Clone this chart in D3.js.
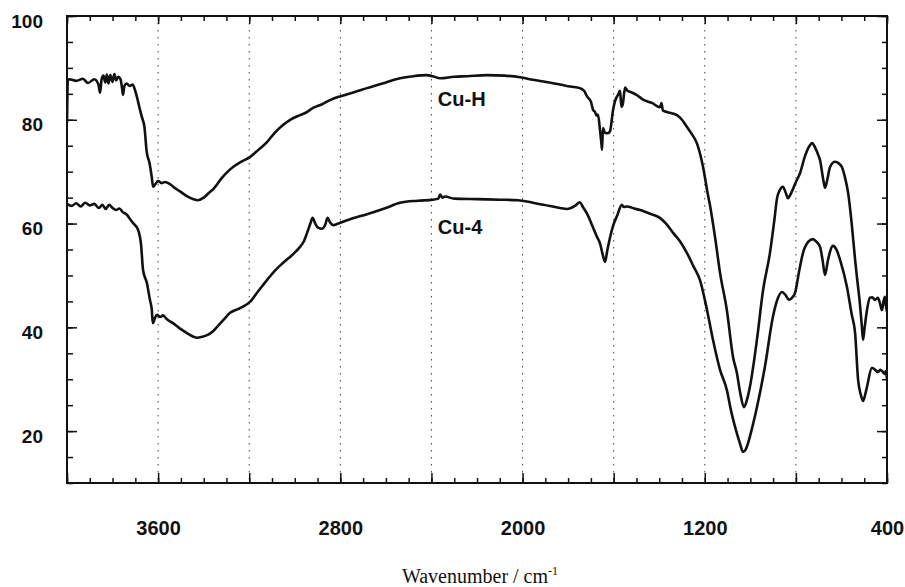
<!DOCTYPE html>
<html>
<head>
<meta charset="utf-8">
<title>IR spectra Cu-H / Cu-4</title>
<script src="https://cdn.jsdelivr.net/npm/d3@7"></script>
<style>
    body { margin: 0; background: #fff; }
    #spectrum { width: 905px; height: 587px; }
    .grid-line { stroke: #444; stroke-width: 1; stroke-dasharray: 1.5,5.5; }
    .frame { fill: none; stroke: #111; stroke-width: 2; }
    .spectrum-line { fill: none; stroke: #111; stroke-width: 2.6; stroke-linejoin: round; }
    .series-label { font-family: 'Liberation Sans', Arial, sans-serif; font-size: 20px; font-weight: bold; fill: #111; }
    .x-title { font-family: 'Liberation Serif', 'Times New Roman', serif; font-size: 20px; fill: #111; }
</style>
</head>
<body>
<div id="spectrum"></div>
<script>

// [wavenumber cm-1, transmittance %]
const cuH = [
    [4000, 79.4], [3996, 87.6], [3990, 87.8], [3960, 87.5], [3930, 87.9], [3908, 87.1],
    [3880, 87.8], [3862, 86.8], [3855, 85.2], [3848, 87.8], [3840, 88.5], [3832, 87.2],
    [3825, 88.7], [3818, 87.0], [3810, 88.6], [3800, 87.3], [3792, 88.8], [3784, 87.6],
    [3775, 88.3], [3765, 87.8], [3758, 86.0], [3754, 84.8], [3748, 86.5], [3738, 87.0],
    [3725, 86.5], [3712, 86.8], [3700, 85.5], [3693, 84.4], [3680, 82.0], [3671, 80.5],
    [3660, 78.6], [3650, 73.8], [3638, 71.7], [3628, 69.0], [3622, 67.1], [3612, 67.6],
    [3600, 68.2], [3585, 67.8], [3570, 68.0], [3548, 67.6], [3525, 66.8], [3504, 66.2],
    [3470, 65.2], [3445, 64.7], [3425, 64.5], [3400, 65.0], [3375, 66.0], [3359, 66.6],
    [3320, 68.8], [3290, 70.2], [3271, 70.9], [3240, 71.8], [3197, 72.8], [3160, 74.2],
    [3122, 75.7], [3090, 77.4], [3052, 79.0], [3020, 80.0], [2977, 80.9], [2950, 81.4],
    [2920, 82.3], [2880, 83.0], [2845, 83.8], [2802, 84.5], [2740, 85.3], [2683, 86.1],
    [2600, 87.2], [2538, 88.0], [2480, 88.4], [2420, 88.6], [2395, 88.4], [2362, 88.0],
    [2300, 88.3], [2244, 88.4], [2156, 88.6], [2080, 88.5], [2011, 88.2], [1954, 87.7],
    [1900, 87.3], [1836, 86.8], [1790, 86.4], [1748, 86.1], [1730, 85.6], [1717, 84.5],
    [1700, 83.5], [1691, 82.0], [1682, 81.5], [1675, 80.8], [1669, 81.0], [1660, 78.0],
    [1655, 76.0], [1651, 74.2], [1647, 78.4], [1638, 77.5], [1625, 77.4], [1616, 77.8],
    [1603, 81.8], [1594, 83.6], [1581, 84.8], [1572, 85.6], [1566, 82.5], [1560, 83.0],
    [1550, 86.2], [1540, 85.6], [1528, 85.4], [1500, 84.8], [1471, 83.9], [1430, 83.2],
    [1397, 82.4], [1390, 83.2], [1384, 81.8], [1366, 81.5], [1322, 80.9], [1300, 80.0],
    [1278, 78.6], [1256, 77.2], [1234, 75.4], [1208, 71.0], [1186, 65.5], [1177, 63.5],
    [1155, 57.4], [1133, 50.5], [1103, 43.3], [1076, 34.3], [1059, 31.2], [1045, 27.5],
    [1028, 24.6], [1015, 26.0], [1002, 28.5], [971, 37.6], [944, 47.2], [914, 54.3],
    [895, 60.5], [883, 64.8], [870, 66.5], [857, 67.1], [845, 66.0], [835, 64.9],
    [825, 65.5], [800, 68.0], [782, 69.7], [760, 73.0], [740, 75.0], [729, 75.5],
    [715, 74.6], [700, 73.0], [694, 72.2], [680, 68.5], [672, 66.9], [662, 68.5],
    [650, 70.9], [628, 71.9], [612, 71.6], [598, 70.9], [585, 69.0], [571, 66.0],
    [555, 60.0], [540, 53.0], [532, 49.7], [520, 45.0], [510, 40.0], [505, 37.6],
    [498, 40.0], [488, 43.3], [475, 45.7], [465, 45.8], [453, 45.3], [440, 45.7],
    [430, 44.5], [422, 43.3], [415, 45.0], [409, 45.9], [404, 44.0], [400, 43.0]
];

const cu4 = [
    [4000, 63.8], [3980, 63.4], [3960, 63.9], [3940, 63.3], [3920, 64.0], [3900, 63.5],
    [3880, 63.8], [3860, 63.0], [3845, 63.6], [3830, 62.8], [3815, 63.6], [3800, 63.0],
    [3785, 62.6], [3770, 62.9], [3755, 62.2], [3737, 61.7], [3722, 60.8], [3710, 60.1],
    [3688, 58.8], [3675, 56.0], [3666, 51.0], [3649, 48.5], [3636, 45.3], [3628, 43.5],
    [3623, 40.8], [3614, 41.8], [3605, 42.4], [3590, 42.0], [3579, 42.3], [3560, 41.5],
    [3535, 40.8], [3505, 39.8], [3473, 38.9], [3445, 38.2], [3429, 38.0], [3405, 38.2],
    [3385, 38.5], [3360, 39.2], [3341, 40.1], [3310, 41.6], [3284, 42.8], [3250, 43.5],
    [3227, 44.0], [3197, 44.9], [3160, 47.0], [3122, 49.1], [3090, 50.8], [3052, 52.4],
    [3010, 54.0], [2977, 55.5], [2960, 56.6], [2946, 58.2], [2930, 60.2], [2922, 61.1],
    [2910, 60.0], [2898, 59.2], [2880, 59.0], [2866, 59.8], [2856, 61.1], [2845, 60.2],
    [2830, 59.7], [2815, 59.9], [2760, 60.8], [2683, 61.8], [2600, 63.0], [2538, 64.0],
    [2460, 64.4], [2393, 64.6], [2370, 64.8], [2362, 65.6], [2352, 65.0], [2340, 65.2],
    [2300, 64.8], [2200, 64.7], [2099, 64.6], [2020, 64.5], [1954, 64.0], [1880, 63.4],
    [1836, 63.0], [1805, 62.8], [1770, 63.4], [1748, 64.1], [1735, 63.2], [1717, 61.9],
    [1691, 59.3], [1673, 57.4], [1660, 56.2], [1648, 54.0], [1638, 52.6], [1628, 54.8],
    [1616, 57.3], [1603, 59.5], [1585, 61.5], [1564, 63.6], [1555, 63.2], [1542, 63.3],
    [1510, 62.9], [1484, 62.6], [1440, 61.9], [1397, 61.1], [1370, 60.0], [1339, 58.2],
    [1309, 56.6], [1278, 54.3], [1250, 51.8], [1221, 49.1], [1190, 43.3], [1164, 37.6],
    [1133, 31.8], [1103, 27.9], [1085, 24.0], [1067, 20.8], [1046, 17.7], [1032, 16.0],
    [1020, 16.5], [1010, 17.7], [990, 21.0], [971, 24.6], [936, 32.4], [901, 42.0],
    [880, 45.5], [861, 46.8], [845, 46.2], [830, 45.3], [815, 45.8], [804, 46.6],
    [785, 51.0], [769, 54.3], [745, 56.5], [725, 57.0], [710, 56.5], [694, 55.5],
    [683, 53.0], [672, 50.1], [660, 52.8], [637, 55.7], [620, 54.8], [606, 53.0],
    [576, 47.8], [555, 42.5], [540, 38.9], [527, 29.9], [515, 27.0], [505, 25.8],
    [496, 27.0], [488, 28.5], [466, 32.2], [452, 31.8], [440, 31.4], [430, 31.8],
    [418, 31.4], [410, 31.0], [405, 31.6], [400, 30.0]
];

const seriesNames = ['Cu-H', 'Cu-4'];

// axis ticks
const xMajorTicks = [4000, 3600, 3200, 2800, 2400, 2000, 1600, 1200, 800, 400];
const xTickLabels = [3600, 2800, 2000, 1200, 400];
const gridWavenumbers = [3600, 3200, 2800, 2400, 2000, 1600, 1200, 800];
const yTickLabels = [20, 40, 60, 80, 100];

const irChart = (function () {

    let svg = null,
        width = null,
        height = null,
        margin = null,
        xScale = null,
        yScale = null
    ;

    return {
        init
    };

    function init() {

        var container = document.getElementById('spectrum');
        margin = {top: 16, right: 18, bottom: 104, left: 67};

        width = 905 - margin.left - margin.right;
        height = 587 - margin.top - margin.bottom;

        //x runs backwards, as usual for IR
        xScale = d3.scaleLinear()
            .domain([4000, 400])
            .range([0, width]);

        yScale = d3.scaleLinear()
            .domain([10, 100])
            .range([height, 0]);

        svg = d3.select(container).append('svg')
            .attr('width', width + margin.left + margin.right)
            .attr('height', height + margin.top + margin.bottom)
            .append('g')
            .attr('transform', 'translate(' + margin.left + ',' + margin.top + ')')
            ;

        drawGrid();
        drawAxes();
        drawSpectra();
    }

    function drawGrid() {

        svg.selectAll('.grid-line')
            .data(gridWavenumbers)
            .enter().append('line')
            .attr('class', 'grid-line')
            .attr('x1', d => xScale(d))
            .attr('x2', d => xScale(d))
            .attr('y1', 0)
            .attr('y2', height)
            ;
    }

    function drawAxes() {

        var xMinor = d3.range(400, 4001, 100);
        var yMinor = d3.range(10, 101, 5);
        var sans = "'Liberation Sans', Arial, sans-serif";

        //all ticks point into the plot
        var axes = [
            {gen: d3.axisBottom, scale: xScale, at: 'translate(0,' + height + ')', minor: xMinor, major: xMajorTicks, big: 10, small: 5},
            {gen: d3.axisTop, scale: xScale, at: 'translate(0,0)', minor: xMinor, major: xMajorTicks, big: 8, small: 5},
            {gen: d3.axisLeft, scale: yScale, at: 'translate(0,0)', minor: yMinor, major: yTickLabels, big: 10, small: 6},
            {gen: d3.axisRight, scale: yScale, at: 'translate(' + width + ',0)', minor: yMinor, major: yTickLabels, big: 10, small: 5}
        ];

        axes.forEach(function (a) {
            [[a.minor, a.small], [a.major, a.big]].forEach(function (set) {
                var g = svg.append('g')
                    .attr('class', 'ticks')
                    .attr('transform', a.at)
                    .call(a.gen(a.scale).tickValues(set[0]).tickSize(-set[1]).tickFormat(() => ''))
                    ;
                g.select('.domain').remove();
                g.selectAll('line')
                    .attr('stroke', '#111')
                    .attr('stroke-width', 1.5)
                    ;
            });
        });

        //tick labels
        svg.append('g')
            .attr('class', 'x-labels')
            .attr('transform', 'translate(0,' + height + ')')
            .call(d3.axisBottom(xScale).tickValues(xTickLabels).tickSize(0).tickFormat(d3.format('d')))
            .call(g => g.select('.domain').remove())
            .attr('font-family', sans)
            .attr('font-size', 20)
            .attr('font-weight', 'bold')
            .selectAll('text')
            .attr('fill', '#111')
            .attr('y', 52)
            .attr('dy', 0)
            ;

        svg.append('g')
            .attr('class', 'y-labels')
            .call(d3.axisLeft(yScale).tickValues(yTickLabels).tickSize(0).tickFormat(d3.format('d')))
            .call(g => g.select('.domain').remove())
            .attr('font-family', sans)
            .attr('font-size', 19)
            .attr('font-weight', 'bold')
            .selectAll('text')
            .attr('fill', '#111')
            .attr('x', -24)
            .attr('y', 11)
            .attr('dy', 0)
            ;

        svg.append('rect')
            .attr('class', 'frame')
            .attr('width', width)
            .attr('height', height)
            ;

        var title = svg.append('text')
            .attr('class', 'x-title')
            .attr('x', width / 2 + 3)
            .attr('y', height + 100)
            .style('text-anchor', 'middle')
            ;
        title.append('tspan').text('Wavenumber / cm');
        title.append('tspan')
            .attr('dy', -8)
            .style('font-size', '12px')
            .text('-1');
    }

    function drawSpectra() {

        var line = d3.line()
            .x(d => xScale(d[0]))
            .y(d => yScale(d[1]))
            .curve(d3.curveMonotoneX);

        svg.append('clipPath')
            .attr('id', 'plot-clip')
            .append('rect')
            .attr('width', width)
            .attr('height', height)
            ;

        svg.selectAll('.spectrum-line')
            .data([cuH, cu4])
            .enter().append('path')
            .attr('class', 'spectrum-line')
            .attr('clip-path', 'url(#plot-clip)')
            .attr('d', line)
            ;

        //labels sit in the gap between the two traces
        var labelPos = [[2372, 82.6], [2372, 58.0]];
        svg.selectAll('.series-label')
            .data(seriesNames)
            .enter().append('text')
            .attr('class', 'series-label')
            .attr('x', (d, i) => xScale(labelPos[i][0]))
            .attr('y', (d, i) => yScale(labelPos[i][1]))
            .text(d => d)
            ;
    }

}());

irChart.init();
</script>
</body>
</html>
